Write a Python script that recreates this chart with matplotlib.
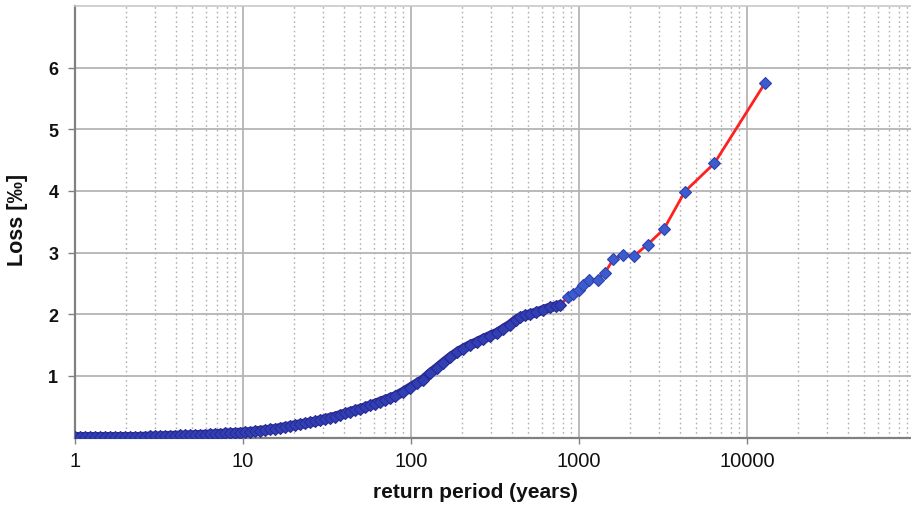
import matplotlib
matplotlib.use('Agg')
import matplotlib.pyplot as plt
from matplotlib.ticker import LogLocator, NullFormatter, FixedLocator, FixedFormatter

# datos: periodo de retorno (anos) y perdida [permil]
periodo_denso = [1, 1.07, 1.15, 1.23, 1.32, 1.41, 1.51, 1.62, 1.73, 1.85, 1.99, 2.13,
                 2.28, 2.44, 2.61, 2.8, 3.0, 3.2, 3.44, 3.68, 3.94, 4.22, 4.52, 4.84,
                 5.18, 5.55, 5.94, 6.36, 6.81, 7.3, 7.81, 8.37, 8.96, 9.6, 10.3, 11.0,
                 11.8, 12.6, 13.5, 14.5, 15.5, 16.6, 17.8, 19.1, 20.4, 21.8, 23.4, 25.0,
                 26.8, 28.7, 30.8, 33.0, 35.3, 37.8, 40.5, 43.3, 46.4, 49.7, 53.2, 57.0,
                 61.1, 65.4, 70.0, 75.0, 80.3]
perdida_denso = [0.01, 0.01, 0.01, 0.01, 0.01, 0.01, 0.01, 0.01, 0.01, 0.01, 0.01, 0.01,
                 0.01, 0.012, 0.015, 0.018, 0.02, 0.022, 0.025, 0.028, 0.03, 0.033, 0.035,
                 0.038, 0.04, 0.043, 0.047, 0.05, 0.055, 0.06, 0.065, 0.07, 0.075, 0.08,
                 0.085, 0.09, 0.10, 0.11, 0.12, 0.13, 0.14, 0.155, 0.17, 0.185, 0.20, 0.215,
                 0.23, 0.245, 0.26, 0.28, 0.30, 0.32, 0.34, 0.365, 0.39, 0.415, 0.44, 0.465,
                 0.49, 0.52, 0.55, 0.58, 0.61, 0.64, 0.67]

periodo_medio = [89.6, 98.6, 108.6, 117.9, 129.7, 142.8, 155, 170.6, 187.8, 204, 224.5,
                 247, 268.5, 295, 325, 353, 388, 422, 446, 477, 511, 555, 611, 672, 730, 771]
perdida_medio = [0.74, 0.81, 0.88, 0.94, 1.04, 1.13, 1.21, 1.30, 1.38, 1.44, 1.50, 1.55,
                 1.60, 1.65, 1.70, 1.76, 1.83, 1.91, 1.95, 1.98, 2.00, 2.03, 2.07, 2.11,
                 2.13, 2.15]

periodo_cola = [862, 918, 1000, 1062, 1151, 1293, 1422, 1600, 1829, 2133, 2560, 3200,
                4267, 6400, 12800]
perdida_cola = [2.28, 2.33, 2.40, 2.48, 2.55, 2.56, 2.67, 2.89, 2.96, 2.95, 3.13, 3.38,
                3.99, 4.45, 5.75]

ticks_x = [1, 10, 100, 1000, 10000]
etiquetas_x = ['1', '10', '100', '1000', '10000']
ticks_y = [1, 2, 3, 4, 5, 6]


def Main():
    plt.rcParams['font.family'] = ['Liberation Sans', 'DejaVu Sans']

    periodo = periodo_denso + periodo_medio + periodo_cola
    perdida = perdida_denso + perdida_medio + perdida_cola
    periodo_banda = periodo_denso + periodo_medio
    perdida_banda = perdida_denso + perdida_medio

    fig = plt.figure(figsize=(9.11, 5.06), dpi=100)
    ax = fig.add_axes([75 / 911, 1 - 438.5 / 506, 840 / 911, 431.5 / 506])

    # linea roja de toda la serie
    ax.plot(periodo, perdida, color='#ff2020', linewidth=2, zorder=3)
    # banda oscura donde los puntos se solapan
    ax.plot(periodo_banda, perdida_banda, color='#2a2a94', linewidth=7,
            solid_capstyle='round', zorder=4)
    ax.plot(periodo_banda, perdida_banda, linestyle='none', zorder=5,
            marker='D', markersize=6, markerfacecolor='#3040b4',
            markeredgecolor='#2a2a96', markeredgewidth=0.8)
    ax.plot(periodo_cola, perdida_cola, linestyle='none', zorder=5,
            marker='D', markersize=6, markerfacecolor='#3a5ccc',
            markeredgecolor='#3040b0', markeredgewidth=0.8)

    ax.set_xscale('log')
    ax.set_xlim(1, 100000)
    ax.set_ylim(0, 7)

    # rejilla
    ax.xaxis.set_major_locator(FixedLocator(ticks_x))
    ax.xaxis.set_major_formatter(FixedFormatter(etiquetas_x))
    ax.xaxis.set_minor_locator(LogLocator(base=10, subs=range(2, 10), numticks=20))
    ax.xaxis.set_minor_formatter(NullFormatter())
    ax.set_yticks(ticks_y)
    ax.set_yticklabels([str(t) for t in ticks_y], fontweight='bold')

    ax.grid(True, which='major', axis='both', color='#b4b4b4', linewidth=1.3, linestyle='-')
    ax.grid(True, which='minor', axis='x', color='#b0b0b0', linewidth=1.0, linestyle=(0, (1.2, 2.2)))
    ax.set_axisbelow(True)

    ax.tick_params(axis='x', which='major', labelsize=14.5, length=4, width=1,
                   color='#808080', pad=6, labelcolor='#111111')
    ax.tick_params(axis='x', which='minor', length=0)
    ax.tick_params(axis='y', which='major', labelsize=13, length=5, width=1,
                   color='#808080', pad=7, labelcolor='#111111')

    for lado in ['left', 'bottom']:
        ax.spines[lado].set_color('#808080')
        ax.spines[lado].set_linewidth(1.6)
    ax.spines['top'].set_color('#c8c8c8')
    ax.spines['top'].set_linewidth(1.2)
    ax.spines['right'].set_visible(False)

    ax.set_xlabel('return period (years)', fontsize=15, fontweight='bold', color='#111111')
    ax.xaxis.set_label_coords(0.477, -0.103)
    ax.set_ylabel('Loss [‰]', fontsize=15.5, fontweight='bold', color='#111111')
    ax.yaxis.set_label_coords(-0.056, 0.506)

    fig.savefig('out.png', dpi=100)


if __name__ == '__main__':
    Main()
